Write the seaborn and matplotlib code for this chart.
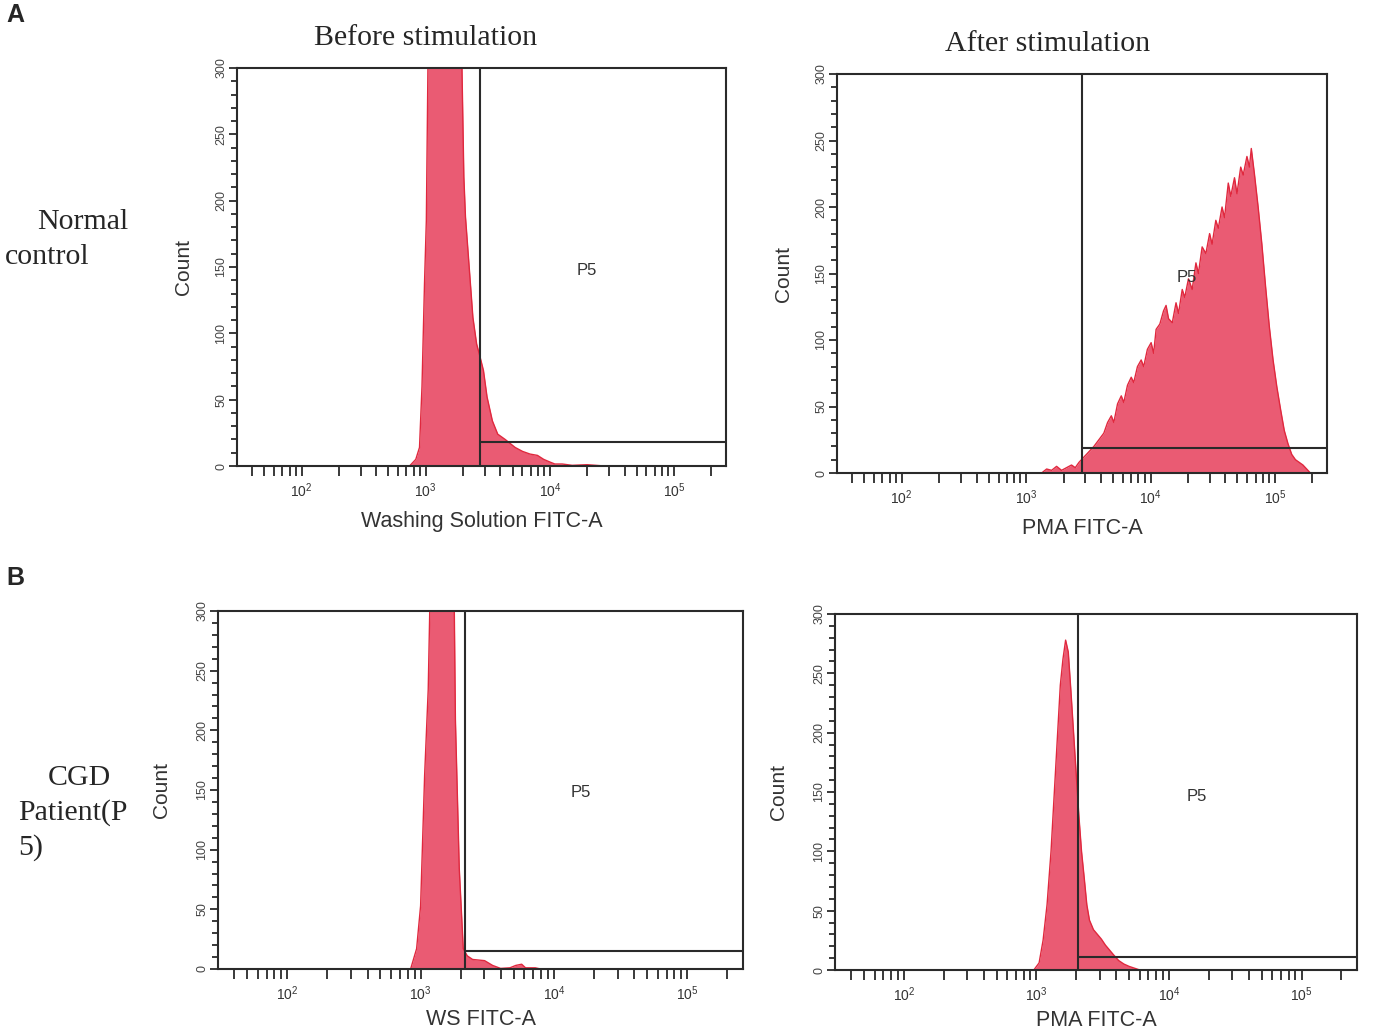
import numpy as np
import seaborn as sns
import matplotlib.pyplot as plt
from matplotlib.ticker import LogLocator, MultipleLocator, NullFormatter

# --- data: log10 fluorescence vs count ---
a_before_x = [2.87, 2.92, 2.95, 2.97, 2.99, 3.005, 3.02, 3.05, 3.12, 3.20, 3.27, 3.29, 3.307,
              3.32, 3.35, 3.38, 3.41, 3.43, 3.465, 3.494, 3.537, 3.58, 3.64, 3.72, 3.78,
              3.84, 3.90, 3.95, 4.00, 4.04, 4.10, 4.18, 4.30, 4.44]
a_before_y = [0, 5, 14, 60, 137, 185, 320, 420, 460, 450, 380, 310, 218,
              188, 150, 112, 92, 85, 72, 52, 34, 24, 20, 14, 11,
              9, 8, 5, 3, 1.5, 1.5, 0.5, 1, 0]

a_after_x = [3.125, 3.165, 3.205, 3.245, 3.285, 3.325, 3.365, 3.395, 3.425, 3.465, 3.505,
             3.545, 3.585, 3.625, 3.655, 3.685, 3.705, 3.735, 3.765, 3.785, 3.815, 3.845,
             3.865, 3.895, 3.925, 3.945, 3.975, 4.005, 4.025, 4.045, 4.075, 4.105, 4.125,
             4.145, 4.175, 4.205, 4.225, 4.255, 4.275, 4.305, 4.335, 4.365, 4.385, 4.415,
             4.445, 4.475, 4.495, 4.525, 4.545, 4.575, 4.595, 4.625, 4.645, 4.675, 4.695,
             4.725, 4.745, 4.775, 4.795, 4.81, 4.835, 4.865, 4.895, 4.925, 4.955, 4.985,
             5.015, 5.045, 5.075, 5.105, 5.135, 5.165, 5.195, 5.225, 5.255, 5.285]
a_after_y = [0, 3, 2, 5, 2, 4, 6, 4, 8, 12, 16, 20, 25,
             30, 38, 43, 38, 52, 58, 53, 66, 72, 68, 80, 85, 80,
             93, 98, 90, 108, 112, 122, 126, 116, 113, 128, 120, 138, 132,
             146, 138, 158, 150, 170, 165, 180, 172, 190, 184, 200, 192, 218,
             208, 222, 210, 230, 224, 238, 230, 244, 225, 200, 172, 140, 110,
             85, 65, 48, 32, 22, 14, 10, 8, 6, 3, 0]

b_before_x = [2.925, 2.97, 3.00, 3.03, 3.057, 3.072, 3.11, 3.16, 3.21, 3.25, 3.261, 3.29,
              3.32, 3.35, 3.39, 3.48, 3.54, 3.60, 3.67, 3.714, 3.758, 3.787, 3.86, 3.90]
b_before_y = [0, 17, 53, 162, 234, 320, 420, 450, 430, 330, 209, 84,
              17, 11, 8, 7, 3, 0.5, 1, 3, 4, 1, 1, 0]

b_after_x = [2.98, 3.02, 3.05, 3.08, 3.11, 3.14, 3.16, 3.18, 3.20, 3.22, 3.24, 3.26, 3.28,
             3.30, 3.32, 3.34, 3.36, 3.38, 3.40, 3.43, 3.46, 3.49, 3.52, 3.55, 3.58, 3.62,
             3.66, 3.70, 3.74, 3.78]
b_after_y = [0, 6, 25, 55, 100, 160, 200, 240, 262, 278, 268, 235, 200,
             165, 130, 100, 78, 55, 42, 34, 30, 26, 21, 17, 13, 8,
             5, 3, 1.5, 0]

# gate: vertical position (log10) and height of horizontal bar (count)
gate_x = [3.437, 3.448, 3.335, 3.314]
gate_y = [18, 19, 15, 11]
x_labels = ['Washing Solution FITC-A', 'PMA FITC-A', 'WS FITC-A', 'PMA FITC-A']

series = [(a_before_x, a_before_y), (a_after_x, a_after_y),
          (b_before_x, b_before_y), (b_after_x, b_after_y)]

# panel boxes in pixels: left, top, right, bottom; P5 label spot in axes fraction
W, H = 1375, 1035
boxes = [(237, 68, 726, 466), (837, 74, 1327, 473),
         (218, 611, 743, 969), (835, 614, 1357, 970)]
p5_pos = [(0.716, 0.492), (0.714, 0.491), (0.691, 0.492), (0.693, 0.486)]

sns.set_style('ticks')
plt.rcParams['font.family'] = ['Liberation Sans', 'DejaVu Sans']
plt.rcParams['mathtext.fontset'] = 'dejavusans'

fill_c = '#EA5B73'
edge_c = '#E0283E'
XMIN, XMAX = 10 ** 1.48, 262144

fig = plt.figure(figsize=(W / 100, H / 100), dpi=100)

for i, (box, (lx, ly)) in enumerate(zip(boxes, series)):
    l, t, r, b = box
    ax = fig.add_axes([l / W, 1 - b / H, (r - l) / W, (b - t) / H])
    xs = 10 ** np.array(lx)
    ys = np.array(ly, dtype=float)
    ax.fill_between(xs, ys, color=fill_c, lw=0)
    sns.lineplot(x=xs, y=ys, ax=ax, color=edge_c, lw=1, sort=False)
    ax.set_xscale('log')
    ax.set_xlim(XMIN, XMAX)
    ax.set_ylim(0, 300)

    gx = 10 ** gate_x[i]
    ax.axvline(gx, color='#2a2a2a', lw=1.5)
    ax.hlines(gate_y[i], gx, XMAX, color='#2a2a2a', lw=1.5)
    ax.text(p5_pos[i][0], p5_pos[i][1], 'P5', transform=ax.transAxes,
            fontsize=12, ha='center', va='center', color='#333333')

    for s in ax.spines.values():
        s.set_linewidth(1.5)
        s.set_color('#2a2a2a')

    ax.xaxis.set_major_locator(LogLocator(base=10, numticks=10))
    ax.xaxis.set_minor_locator(LogLocator(base=10, subs=np.arange(2, 10), numticks=20))
    ax.xaxis.set_minor_formatter(NullFormatter())
    ax.yaxis.set_major_locator(MultipleLocator(50))
    ax.yaxis.set_minor_locator(MultipleLocator(10))
    ax.tick_params(axis='both', which='both', direction='out', width=1.3,
                   color='#2a2a2a')
    ax.tick_params(axis='x', which='both', length=7)
    ax.tick_params(axis='x', which='major', labelsize=10, labelcolor='#333333', pad=4)
    ax.tick_params(axis='y', which='major', length=6, labelsize=9,
                   labelrotation=90, labelcolor='#444444', pad=1)
    ax.tick_params(axis='y', which='minor', length=4)
    for lab in ax.get_yticklabels():
        lab.set_va('center')

    ax.set_ylabel('Count', fontsize=15, color='#333333')
    ax.yaxis.set_label_coords(-0.09, 0.5)
    ax.set_xlabel(x_labels[i], fontsize=15.5, color='#333333')
    ax.xaxis.set_label_coords(0.5, -0.112 if i < 2 else -0.113)

serif = ['Liberation Serif', 'DejaVu Serif']
fs = 21.5
fig.text(426 / W, 1 - 38 / H, 'Before stimulation', fontsize=fs, family=serif,
         ha='center', va='center')
fig.text(1048 / W, 1 - 44 / H, 'After stimulation', fontsize=fs, family=serif,
         ha='center', va='center')
fig.text(37 / W, 1 - 222 / H, 'Normal', fontsize=fs, family=serif, va='center')
fig.text(5 / W, 1 - 257 / H, 'control', fontsize=fs, family=serif, va='center')
fig.text(48 / W, 1 - 778 / H, 'CGD', fontsize=fs, family=serif, va='center')
fig.text(18 / W, 1 - 813 / H, 'Patient(P', fontsize=fs, family=serif, va='center')
fig.text(18 / W, 1 - 848 / H, '5)', fontsize=fs, family=serif, va='center')

fig.text(6 / W, 1 - 15 / H, 'A', fontsize=18, fontweight='bold', va='center')
fig.text(6 / W, 1 - 578 / H, 'B', fontsize=18, fontweight='bold', va='center')

fig.savefig('out.png', dpi=100, facecolor='white')
